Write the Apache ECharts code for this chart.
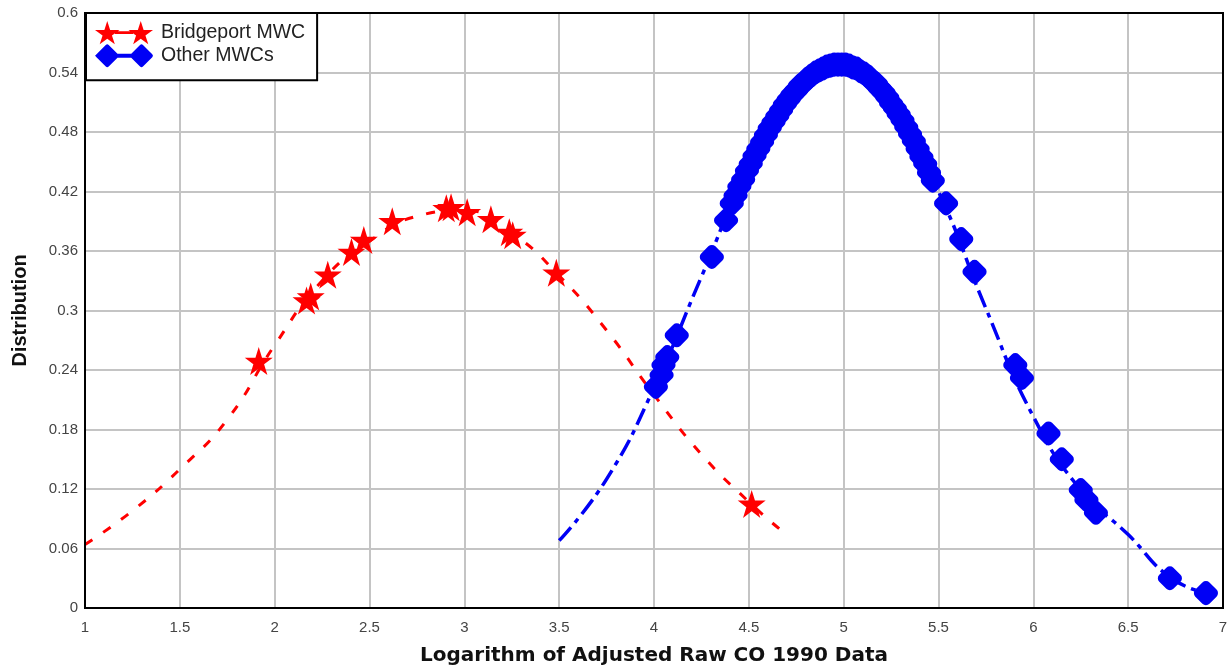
<!DOCTYPE html>
<html>
<head>
<meta charset="utf-8">
<script src="https://cdn.jsdelivr.net/npm/echarts@6/dist/echarts.min.js"></script>
<style>
html,body{margin:0;padding:0;background:#fff;}
#chart{width:1229px;height:668px;}
</style>
</head>
<body>
<div id="chart"></div>
<script>
// ---- data ----
const xTicks = [1, 1.5, 2, 2.5, 3, 3.5, 4, 4.5, 5, 5.5, 6, 6.5, 7];
const yTicks = [0, 0.06, 0.12, 0.18, 0.24, 0.3, 0.36, 0.42, 0.48, 0.54, 0.6];

const bridgeportX = [1.916, 2.168, 2.19, 2.28, 2.405, 2.47, 2.62, 2.905, 2.93, 3.015, 3.14, 3.237, 3.255, 3.485, 4.515];
const bridgeportY = [0.249, 0.310, 0.314, 0.336, 0.359, 0.371, 0.390, 0.403, 0.404, 0.399, 0.392, 0.379, 0.376, 0.338, 0.105];

const bridgeportFitX = [1.0, 1.25, 1.5, 1.75, 2.0, 2.25, 2.5, 2.75, 3.0, 3.25, 3.5, 3.75, 4.0, 4.25, 4.5, 4.66];
const bridgeportFitY = [0.064, 0.098, 0.140, 0.190, 0.265, 0.330, 0.370, 0.395, 0.401, 0.378, 0.335, 0.280, 0.215, 0.155, 0.107, 0.080];

const otherX = [4.01, 4.04, 4.05, 4.07, 4.12, 4.305, 4.38,
  4.41, 4.43, 4.45, 4.47, 4.49, 4.51, 4.53, 4.55, 4.57, 4.59, 4.61, 4.63, 4.65, 4.67, 4.69, 4.71, 4.73, 4.75, 4.77, 4.79,
  4.81, 4.83, 4.85, 4.87, 4.89, 4.91, 4.93, 4.95, 4.97, 4.99, 5.01, 5.03, 5.05, 5.07, 5.09, 5.11, 5.13, 5.15, 5.17, 5.19,
  5.21, 5.23, 5.25, 5.27, 5.29, 5.31, 5.33, 5.35, 5.37, 5.39, 5.41, 5.43, 5.45, 5.47,
  5.54, 5.62, 5.69, 5.905, 5.94, 6.08, 6.15, 6.25, 6.28, 6.33, 6.72, 6.91];
const otherY = [0.223, 0.235, 0.245, 0.253, 0.275, 0.354, 0.391,
  0.408, 0.416, 0.425, 0.432, 0.441, 0.448, 0.456, 0.463, 0.470, 0.477, 0.484, 0.490, 0.496, 0.502, 0.508, 0.513, 0.518, 0.522, 0.527, 0.530,
  0.534, 0.537, 0.540, 0.542, 0.544, 0.546, 0.547, 0.548, 0.548, 0.548, 0.548, 0.547, 0.545, 0.544, 0.541, 0.539, 0.536, 0.532, 0.529, 0.524,
  0.520, 0.515, 0.509, 0.504, 0.498, 0.492, 0.485, 0.478, 0.471, 0.463, 0.455, 0.448, 0.439, 0.431,
  0.408, 0.372, 0.339, 0.245, 0.232, 0.176, 0.150, 0.119, 0.109, 0.096, 0.030, 0.015];

const otherFitX = [3.5, 3.75, 4.0, 4.25, 4.5, 4.75, 5.0, 5.25, 5.5, 5.75, 6.0, 6.25, 6.5, 6.72, 6.91];
const otherFitY = [0.068, 0.130, 0.222, 0.334, 0.444, 0.522, 0.548, 0.509, 0.420, 0.302, 0.193, 0.119, 0.074, 0.031, 0.015];

// ---- build ----
const zip = (xs, ys) => xs.map((x, i) => [x, ys[i]]);
const STAR = 'path://M50,0 L61.2,34.5 L97.6,34.5 L68.2,55.9 L79.4,90.5 L50,69.1 L20.6,90.5 L31.8,55.9 L2.4,34.5 L38.8,34.5 Z';
const STAR2 = 'path://M50,0 L61.2,34.5 L97.6,34.5 L68.2,55.9 L79.4,90.5 L50,69.1 L20.6,90.5 L31.8,55.9 L2.4,34.5 L38.8,34.5 Z ' +
  'M180,0 L191.2,34.5 L227.6,34.5 L198.2,55.9 L209.4,90.5 L180,69.1 L150.6,90.5 L161.8,55.9 L132.4,34.5 L168.8,34.5 Z ' +
  'M80,40 L150,40 L150,50 L80,50 Z';
const DIAM2 = 'path://M0,50 L44,6 Q50,0 56,6 L94,44 Q100,50 94,56 L56,94 Q50,100 44,94 L6,56 Q0,50 0,50 Z ' +
  'M140,50 L184,6 Q190,0 196,6 L234,44 Q240,50 234,56 L196,94 Q190,100 184,94 L146,56 Q140,50 140,50 Z ' +
  'M85,42 L155,42 L155,58 L85,58 Z';
const fmt = v => String(+v.toFixed(2));

const chart = echarts.init(document.getElementById('chart'), null, {renderer: 'canvas'});
chart.setOption({
  animation: false,
  backgroundColor: '#fff',
  grid: {left: 85, right: 6, top: 13, bottom: 60, containLabel: false, outerBoundsMode: 'none',
         show: true, borderColor: '#000', borderWidth: 2, z: 3},
  legend: {
    orient: 'vertical', left: 86, top: 13,
    padding: [8, 12, 13, 9], itemGap: 0, itemWidth: 58, itemHeight: 24,
    backgroundColor: '#fff', borderColor: '#000', borderWidth: 2,
    textStyle: {fontFamily: 'Liberation Sans', fontSize: 19.5, color: '#222', padding: [0, 0, 0, 3]},
    data: [
      {name: 'Bridgeport MWC', icon: STAR2},
      {name: 'Other MWCs', icon: DIAM2}
    ]
  },
  xAxis: {
    type: 'value', min: xTicks[0], max: xTicks[xTicks.length - 1], interval: xTicks[1] - xTicks[0],
    name: 'Logarithm of Adjusted Raw CO 1990 Data', nameLocation: 'middle', nameGap: 38,
    nameTextStyle: {fontFamily: 'DejaVu Sans', fontWeight: 'bold', fontSize: 20, color: '#111'},
    axisLine: {lineStyle: {color: '#000', width: 2}},
    axisTick: {show: false},
    axisLabel: {fontFamily: 'Liberation Sans', fontSize: 15, color: '#444', margin: 12, formatter: fmt},
    splitLine: {lineStyle: {color: '#c4c4c4', width: 2}}
  },
  yAxis: {
    type: 'value', min: yTicks[0], max: yTicks[yTicks.length - 1], interval: 0.06,
    name: 'Distribution', nameLocation: 'middle', nameGap: 55, nameRotate: 90,
    nameTextStyle: {fontFamily: 'Liberation Sans', fontWeight: 'bold', fontSize: 20, color: '#111'},
    axisLine: {lineStyle: {color: '#000', width: 2}},
    axisTick: {show: false},
    axisLabel: {fontFamily: 'Liberation Sans', fontSize: 15, color: '#444', margin: 7, formatter: fmt},
    splitLine: {lineStyle: {color: '#c4c4c4', width: 2}}
  },
  series: [
    {
      name: 'Bridgeport fit', type: 'line', smooth: true, showSymbol: false, silent: true,
      data: zip(bridgeportFitX, bridgeportFitY),
      lineStyle: {color: '#ff0000', width: 3, type: [9, 13]}, z: 2
    },
    {
      name: 'Other fit', type: 'line', smooth: true, showSymbol: false, silent: true,
      data: zip(otherFitX, otherFitY),
      lineStyle: {color: '#0000f5', width: 3.5, type: [18, 6, 5, 6]}, z: 2
    },
    {
      name: 'Bridgeport MWC', type: 'scatter', symbol: STAR, symbolSize: 28,
      data: zip(bridgeportX, bridgeportY),
      itemStyle: {color: '#ff0000', opacity: 1}, z: 4
    },
    {
      name: 'Other MWCs', type: 'scatter', symbol: 'roundRect', symbolSize: 20, symbolRotate: 45,
      data: zip(otherX, otherY),
      itemStyle: {color: '#0000f5', opacity: 1}, z: 5
    }
  ]
});
</script>
</body>
</html>
